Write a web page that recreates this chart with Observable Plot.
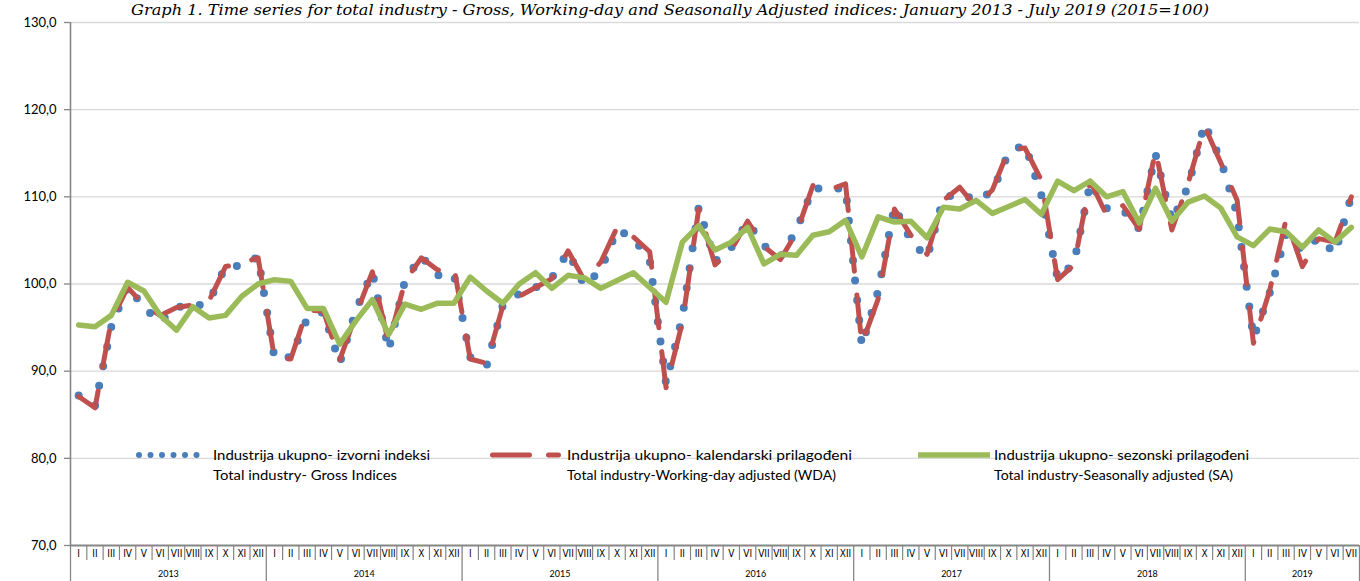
<!DOCTYPE html>
<html><head><meta charset="utf-8">
<script src="https://cdn.jsdelivr.net/npm/d3@7"></script>
<script src="https://cdn.jsdelivr.net/npm/@observablehq/plot@0.6"></script>
<style>
body{margin:0;background:#fff;}
#wrap{position:relative;width:1360px;height:581px;overflow:hidden;}
#overlay{position:absolute;left:0;top:0;pointer-events:none;}
</style></head><body><div id="wrap"></div>
<script>
const title = "Graph 1. Time series for total industry - Gross, Working-day and Seasonally Adjusted indices: January 2013 - July 2019 (2015=100)";
const monthLabels = ["I","II","III","IV","V","VI","VII","VIII","IX","X","XI","XII"];
const years = ["2013","2014","2015","2016","2017","2018","2019"];
const yTicks = [70,80,90,100,110,120,130];
const seriesNames = [
  ["Industrija ukupno- izvorni indeksi","Total industry- Gross Indices"],
  ["Industrija ukupno- kalendarski prilagođeni","Total industry-Working-day adjusted (WDA)"],
  ["Industrija ukupno- sezonski prilagođeni","Total industry-Seasonally adjusted (SA)"]
];
// Gross indices (Jan 2013 - Jul 2019)
const gross = [
  87.2, 86.0, 95.1, 99.8, 97.3, 95.6, 97.4, 97.3, 98.0, 102.0, 102.1, 103.1,
  91.5, 91.6, 96.0, 96.8, 90.9, 97.0, 101.4, 92.4, 100.4, 103.2, 101.0, 101.1,
  91.6, 90.6, 97.6, 98.9, 99.6, 100.7, 103.7, 99.8, 101.6, 106.2, 105.3, 102.7,
  88.6, 96.2, 108.8, 102.6, 104.2, 107.1, 104.4, 103.1, 106.2, 111.0, 110.9, 111.0,
  92.9, 99.2, 108.9, 105.0, 103.0, 109.9, 110.4, 109.6, 110.6, 115.1, 116.0, 110.2,
  100.6, 102.4, 111.6, 108.7, 108.5, 106.3, 114.9, 107.2, 111.2, 118.4, 114.2, 108.0,
  93.8, 99.0, 105.7, 103.8, 105.3, 103.5, 110.1
];
// Working-day adjusted
const wda = [
  87.1, 85.8, 95.8, 99.6, 97.6, 96.4, 97.3, 97.6, 98.1, 102.0, 102.4, 103.0,
  91.5, 91.4, 97.0, 96.9, 91.3, 96.5, 101.4, 93.2, 100.3, 103.0, 101.6, 101.9,
  91.4, 90.9, 97.5, 98.6, 99.6, 100.6, 103.8, 100.4, 102.5, 106.5, 105.4, 103.7,
  88.1, 95.6, 108.6, 102.2, 103.9, 107.2, 104.3, 102.8, 105.9, 111.3, 110.8, 111.5,
  93.1, 98.3, 108.6, 105.6, 103.4, 109.6, 111.1, 108.8, 110.8, 115.4, 115.6, 111.9,
  100.5, 102.2, 111.8, 107.9, 109.0, 106.3, 115.3, 106.2, 111.6, 118.1, 113.9, 109.6,
  93.2, 99.3, 107.4, 102.0, 105.2, 104.8, 110.0
];
// Seasonally adjusted
const sa = [
  95.3, 95.1, 96.4, 100.2, 99.2, 96.4, 94.7, 97.4, 96.1, 96.4, 98.6, 100.0,
  100.5, 100.3, 97.2, 97.2, 93.1, 95.8, 98.2, 94.2, 97.7, 97.1, 97.8, 97.8,
  100.8, 99.2, 97.8, 100.0, 101.3, 99.5, 101.0, 100.7, 99.5, 100.4, 101.3, 99.6,
  97.9, 104.8, 106.7, 103.9, 104.8, 106.5, 102.3, 103.4, 103.3, 105.6, 106.0, 107.3,
  103.1, 107.7, 107.1, 107.2, 105.3, 108.8, 108.6, 109.6, 108.1, 108.9, 109.7, 108.0,
  111.8, 110.7, 111.8, 110.0, 110.6, 107.0, 111.0, 107.2, 109.4, 110.1, 108.7, 105.4,
  104.4, 106.3, 106.0, 104.2, 106.2, 104.8, 106.5
];

const n = gross.length;
const idx = d3.range(n);
const toRows = arr => arr.map((v, i) => ({i, v}));
const grossRows = toRows(gross), wdaRows = toRows(wda), saRows = toRows(sa);

const monthSeps = d3.range(n + 1).map(i => i - 0.5).filter(p => Math.round(p + 0.5) % 12 !== 0 && p < n - 0.5);
const yearSeps = d3.range(n + 1).map(i => i - 0.5).filter(p => Math.round(p + 0.5) % 12 === 0 || p === n - 0.5);
const yearCenters = years.map((y, k) => {
  const s = k * 12, e = Math.min(k * 12 + 11, n - 1);
  return (s + e) / 2;
});
const fmtY = d => d3.format(".1f")(d).replace(".", ",");
const axisColor = "#868686";
const font = "Lato, 'Liberation Sans', sans-serif";
const narrow = "'Liberation Sans Narrow', 'DejaVu Sans Condensed', 'Liberation Sans', sans-serif";

const chart = Plot.plot({
  width: 1360, height: 581,
  marginTop: 22, marginBottom: 36, marginLeft: 70, marginRight: 1,
  x: {domain: [-0.5, n - 0.5]},
  y: {domain: [70, 130]},
  style: {fontFamily: font, color: "#000", background: "transparent", overflow: "visible"},
  marks: [
    Plot.gridY(yTicks.slice(1), {stroke: "#d9d9d9", strokeOpacity: 1, strokeWidth: 1.3}),
    Plot.axisY(yTicks, {tickSize: 6, tickPadding: 8, tickFormat: fmtY, fontSize: 13, stroke: axisColor, strokeWidth: 1.3, label: null}),
    Plot.ruleX([-0.5], {stroke: axisColor, strokeWidth: 1.6}),
    Plot.axisX(monthSeps, {tickSize: 15, tickFormat: () => "", stroke: axisColor, strokeWidth: 1.2, label: null}),
    Plot.axisX(yearSeps, {tickSize: 40, tickFormat: () => "", stroke: axisColor, strokeWidth: 1.3, label: null}),
    Plot.axisX(idx, {tickSize: 0, tickPadding: 4, tickFormat: i => monthLabels[i % 12], fontSize: 10, fontFamily: narrow, label: null}),
    Plot.axisX(yearCenters, {tickSize: 0, tickPadding: 25, tickFormat: c => years[yearCenters.indexOf(c)], fontSize: 9, label: null}),
    Plot.line(grossRows, {x: "i", y: "v", stroke: "#4a7ebb", strokeWidth: 8, strokeDasharray: "0,20", strokeLinecap: "round", strokeLinejoin: "round"}),
    Plot.line(wdaRows, {x: "i", y: "v", stroke: "#c0504d", strokeWidth: 5, strokeDasharray: "37,24", strokeLinecap: "round", strokeLinejoin: "round"}),
    Plot.line(saRows, {x: "i", y: "v", stroke: "#9bbb59", strokeWidth: 5.5, strokeLinecap: "round", strokeLinejoin: "round"}),
    Plot.ruleY([70], {stroke: axisColor, strokeWidth: 2})
  ]
});
const wrap = document.getElementById("wrap");
wrap.appendChild(chart);

// Title + legend overlay
const ns = "http://www.w3.org/2000/svg";
const ov = document.createElementNS(ns, "svg");
ov.setAttribute("id", "overlay");
ov.setAttribute("width", 1360); ov.setAttribute("height", 581);
function el(tag, attrs, text) {
  const e = document.createElementNS(ns, tag);
  for (const k in attrs) e.setAttribute(k, attrs[k]);
  if (text != null) e.textContent = text;
  ov.appendChild(e);
  return e;
}
el("text", {x: 131, y: 15, "font-family": "'DejaVu Serif', 'Liberation Serif', serif", "font-style": "italic", "font-size": 15.5, textLength: 1078, lengthAdjust: "spacingAndGlyphs", fill: "#000"}, title);

const legendItems = [
  {x1: 136, x2: 205, tx: 213, stroke: "#4a7ebb", w: 6, dash: "0,11.5", shrink: 3, len: [217, 184]},
  {x1: 490, x2: 561, tx: 567, stroke: "#c0504d", w: 5, dash: "37,19", shrink: 2.5, len: [285, 269]},
  {x1: 918, x2: 990, tx: 994, stroke: "#9bbb59", w: 5.5, dash: null, shrink: 0, len: [255, 239]}
];
legendItems.forEach((it, k) => {
  const a = {x1: it.x1 + it.shrink, x2: it.x2 - it.shrink, y1: 455, y2: 455, stroke: it.stroke, "stroke-width": it.w, "stroke-linecap": it.dash ? "round" : "butt"};
  if (it.dash) a["stroke-dasharray"] = it.dash;
  el("line", a);
  el("text", {x: it.tx, y: 460, "font-family": font, "font-size": 14, textLength: it.len[0], lengthAdjust: "spacingAndGlyphs", fill: "#000"}, seriesNames[k][0]);
  el("text", {x: it.tx, y: 480, "font-family": font, "font-size": 14, textLength: it.len[1], lengthAdjust: "spacingAndGlyphs", fill: "#000"}, seriesNames[k][1]);
});
wrap.appendChild(ov);
</script></body></html>
